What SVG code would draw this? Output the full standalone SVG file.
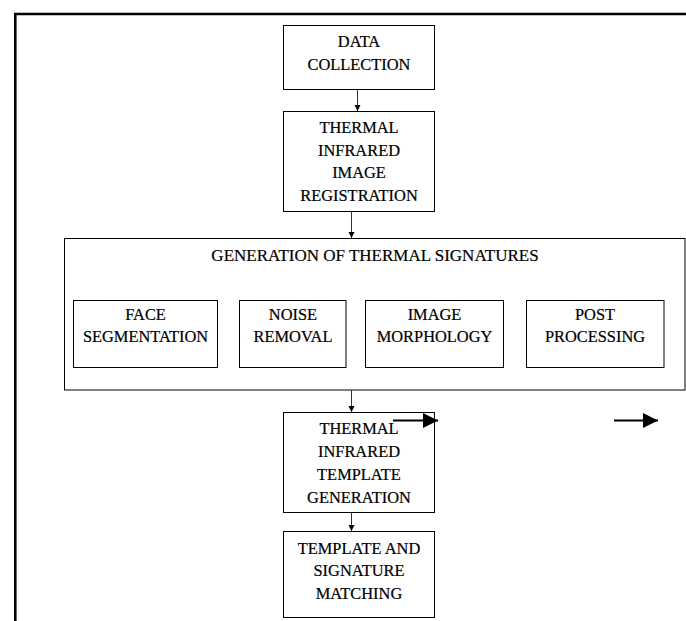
<svg xmlns="http://www.w3.org/2000/svg" width="686" height="621" viewBox="0 0 686 621">
<style>
.box{fill:#fff;stroke:#000;stroke-width:1}
.t{font-family:"Liberation Serif","Times New Roman",serif;font-size:16.4px;fill:#000;text-anchor:middle;stroke:#000;stroke-width:0.2}
.title{font-size:17px}
.conn{stroke:#333;stroke-width:1;fill:none}
</style>
<defs>
<marker id="ah" markerWidth="6" markerHeight="8" refX="6" refY="3" orient="auto" markerUnits="userSpaceOnUse" viewBox="0 0 6 6">
<path d="M0,0 L6,3 L0,6 Z" fill="#000"/>
</marker>
<marker id="bh" markerWidth="15" markerHeight="15" refX="15" refY="7.5" orient="auto" markerUnits="userSpaceOnUse" viewBox="0 0 15 15">
<path d="M0,0 L15,7.5 L0,15 Z" fill="#000"/>
</marker>
</defs>
<rect width="686" height="621" fill="#fff"/>
<path d="M15.3 621 V14 H686" fill="none" stroke="#000" stroke-width="2.6"/>

<g id="data-collection">
<rect class="box" x="283.5" y="25.5" width="151" height="64"/>
<text class="t" x="359" y="46.5">DATA</text>
<text class="t" x="359" y="69.5">COLLECTION</text>
</g>
<g id="registration">
<rect class="box" x="283.5" y="111.5" width="151" height="100"/>
<text class="t" x="359" y="133">THERMAL</text>
<text class="t" x="359" y="155.5">INFRARED</text>
<text class="t" x="359" y="178">IMAGE</text>
<text class="t" x="359" y="201">REGISTRATION</text>
</g>
<g id="generation">
<rect class="box" x="64.5" y="238.5" width="620.5" height="151.5"/>
<text class="t title" x="375" y="260.5">GENERATION OF THERMAL SIGNATURES</text>
<g id="face-segmentation">
<rect class="box" x="73.5" y="300.5" width="144" height="67"/>
<text class="t" x="145.5" y="319.5">FACE</text>
<text class="t" x="145.5" y="341.5">SEGMENTATION</text>
</g>
<g id="noise-removal">
<rect class="box" x="239.5" y="300.5" width="106.5" height="67"/>
<text class="t" x="293" y="319.5">NOISE</text>
<text class="t" x="293" y="341.5">REMOVAL</text>
</g>
<g id="image-morphology">
<rect class="box" x="365.5" y="300.5" width="138" height="67"/>
<text class="t" x="434.5" y="319.5">IMAGE</text>
<text class="t" x="434.5" y="341.5">MORPHOLOGY</text>
</g>
<g id="post-processing">
<rect class="box" x="526.5" y="300.5" width="137.5" height="67"/>
<text class="t" x="595" y="319.5">POST</text>
<text class="t" x="595" y="341.5">PROCESSING</text>
</g>
</g>
<g id="template-generation">
<rect class="box" x="283.5" y="412.5" width="151" height="100"/>
<text class="t" x="359" y="434">THERMAL</text>
<text class="t" x="359" y="456.5">INFRARED</text>
<text class="t" x="359" y="480">TEMPLATE</text>
<text class="t" x="359" y="502.5">GENERATION</text>
</g>
<g id="matching">
<rect class="box" x="283.5" y="531.5" width="151" height="86"/>
<text class="t" x="359" y="553.5">TEMPLATE AND</text>
<text class="t" x="359" y="576">SIGNATURE</text>
<text class="t" x="359" y="599">MATCHING</text>
</g>

<g id="connectors">
<line class="conn" x1="357.5" y1="89.5" x2="357.5" y2="111" marker-end="url(#ah)"/>
<line class="conn" x1="351.5" y1="211.5" x2="351.5" y2="238" marker-end="url(#ah)"/>
<line class="conn" x1="351.5" y1="390" x2="351.5" y2="412" marker-end="url(#ah)"/>
<line class="conn" x1="351.5" y1="512.5" x2="351.5" y2="531" marker-end="url(#ah)"/>
<line x1="393" y1="420.5" x2="438" y2="420.5" stroke="#000" stroke-width="2" marker-end="url(#bh)"/>
<line x1="614" y1="420.5" x2="658" y2="420.5" stroke="#000" stroke-width="2" marker-end="url(#bh)"/>
</g>
</svg>
